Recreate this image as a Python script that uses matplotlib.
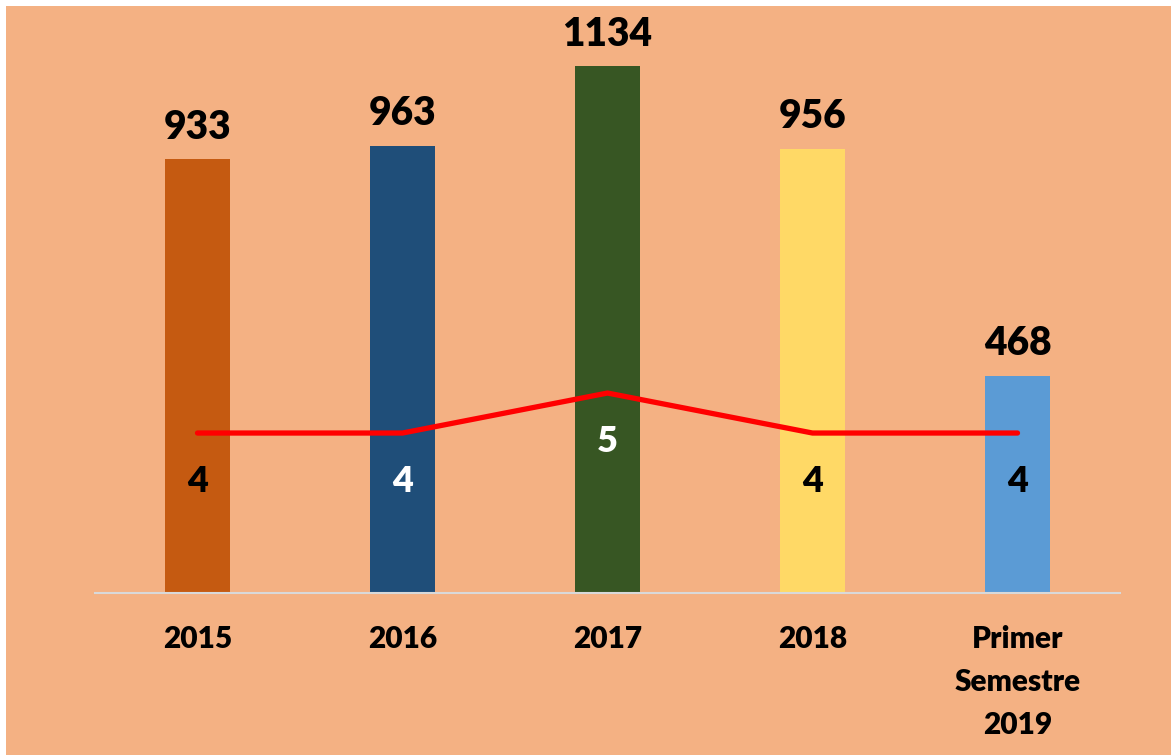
import matplotlib
matplotlib.use("Agg")
import matplotlib.pyplot as plt
from matplotlib.patches import Rectangle

categories = ["2015", "2016", "2017", "2018", "Primer\nSemestre\n2019"]
bar_values = [933, 963, 1134, 956, 468]
line_values = [4, 4, 5, 4, 4]
bar_colors = ["#C55A11", "#1F4E79", "#375623", "#FFD966", "#5B9BD5"]
line_label_colors = ["black", "white", "white", "black", "black"]

plt.rcParams['font.family'] = ['Lato', 'DejaVu Sans']
BG = "#F4B183"
WEIGHT = "heavy"

fig = plt.figure(figsize=(11.71, 7.55), dpi=100)
fig.patch.set_facecolor("white")
bgrect = Rectangle((6 / 1171, 0), 1 - 6 / 1171, (755 - 6) / 755,
                   transform=fig.transFigure, facecolor=BG,
                   edgecolor="none", zorder=-10)
fig.add_artist(bgrect)

W, H = 1171, 755
left, right = 95 / W, 1120 / W
bottom = (H - 593) / H
top = (H - 35.4) / H
ax = fig.add_axes([left, bottom, right - left, top - bottom])
ax.set_facecolor("none")
x = list(range(len(categories)))
bars = ax.bar(x, bar_values, width=0.317, color=bar_colors, zorder=2)
ax.set_xlim(-0.5, len(categories) - 0.5)
ax.set_ylim(0, 1200)
for xi, v in zip(x, bar_values):
    ax.annotate(str(v), (xi, v), xytext=(0, 23), textcoords="offset points",
                ha="center", va="center", fontsize=28, fontweight=WEIGHT,
                color="black")
for s in ["top", "right", "left"]:
    ax.spines[s].set_visible(False)
ax.spines["bottom"].set_color("#D9D9D9")
ax.spines["bottom"].set_linewidth(1.5)
ax.set_yticks([])
ax.set_xticks(x)
ax.set_xticklabels(categories, fontsize=21.5, fontweight=WEIGHT, linespacing=1.65)
ax.tick_params(axis="x", length=0, pad=23)

ax2 = ax.twinx()
ax2.set_ylim(0, 557.7 / 40)
ax2.plot(x, line_values, color="#FF0000", linewidth=3.8,
         solid_capstyle="round", solid_joinstyle="round", zorder=3)
for xi, v, c in zip(x, line_values, line_label_colors):
    ax2.annotate(str(v), (xi, v), xytext=(0, -35), textcoords="offset points",
                 ha="center", va="center", fontsize=26, fontweight=WEIGHT,
                 color=c)
ax2.set_yticks([])
for s in ax2.spines.values():
    s.set_visible(False)

fig.savefig("out.png", dpi=100)
